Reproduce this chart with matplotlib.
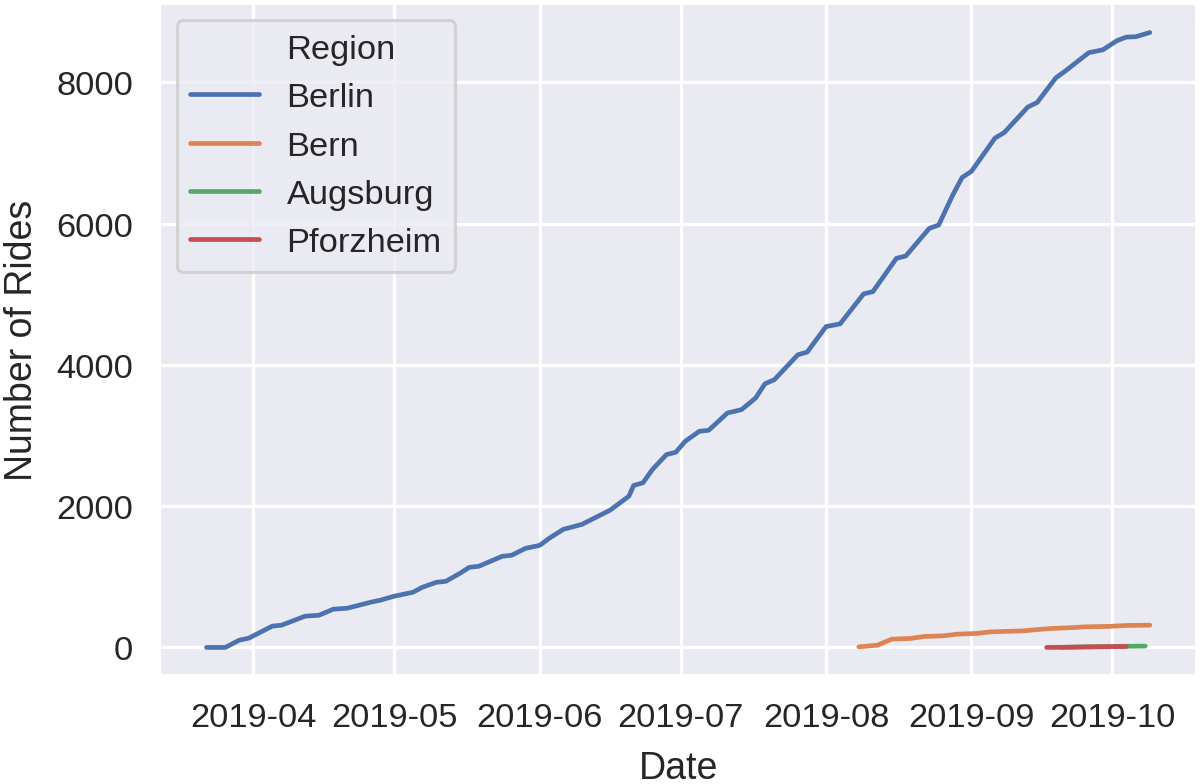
import matplotlib
matplotlib.use('Agg')
import matplotlib.pyplot as plt
import matplotlib.dates as mdates
from matplotlib.lines import Line2D
import numpy as np
import pandas as pd
import seaborn as sns

sns.set_theme(context='talk', style='darkgrid')
plt.rcParams['font.family'] = ['Liberation Sans', 'DejaVu Sans']

regions = ['Berlin', 'Bern', 'Augsburg', 'Pforzheim']
colors = sns.color_palette('deep', 4)

berlin_dates = ['2019-03-22', '2019-03-26', '2019-03-29', '2019-03-31', '2019-04-05',
                '2019-04-07', '2019-04-12', '2019-04-15', '2019-04-18', '2019-04-21',
                '2019-04-26', '2019-04-28', '2019-05-01', '2019-05-05', '2019-05-07',
                '2019-05-10', '2019-05-12', '2019-05-15', '2019-05-17', '2019-05-19',
                '2019-05-24', '2019-05-26', '2019-05-29', '2019-06-01', '2019-06-03',
                '2019-06-06', '2019-06-10', '2019-06-16', '2019-06-20', '2019-06-21',
                '2019-06-23', '2019-06-25', '2019-06-28', '2019-06-30', '2019-07-02',
                '2019-07-05', '2019-07-07', '2019-07-11', '2019-07-14', '2019-07-17',
                '2019-07-19', '2019-07-21', '2019-07-26', '2019-07-28', '2019-08-01',
                '2019-08-04', '2019-08-09', '2019-08-11', '2019-08-16', '2019-08-18',
                '2019-08-23', '2019-08-25', '2019-08-28', '2019-08-30', '2019-09-01',
                '2019-09-06', '2019-09-08', '2019-09-13', '2019-09-15', '2019-09-19',
                '2019-09-21', '2019-09-26', '2019-09-29', '2019-10-02', '2019-10-04',
                '2019-10-06', '2019-10-09']
berlin_rides = [0, 0, 103, 131, 301,
                315, 442, 456, 541, 555,
                640, 668, 725, 781, 852,
                922, 936, 1049, 1134, 1148,
                1290, 1304, 1403, 1445, 1544,
                1671, 1742, 1943, 2141, 2292,
                2331, 2518, 2730, 2763, 2918,
                3059, 3074, 3319, 3366, 3531,
                3733, 3790, 4143, 4181, 4542,
                4580, 5004, 5037, 5508, 5541,
                5932, 5979, 6403, 6653, 6740,
                7210, 7290, 7650, 7715, 8065,
                8160, 8420, 8460, 8590, 8640,
                8645, 8705]

bern_dates = ['2019-08-08', '2019-08-12', '2019-08-15', '2019-08-19', '2019-08-22',
              '2019-08-26', '2019-08-29', '2019-09-02', '2019-09-05', '2019-09-12',
              '2019-09-16', '2019-09-18', '2019-09-23', '2019-09-25', '2019-09-30',
              '2019-10-04', '2019-10-09']
bern_rides = [8, 32, 117, 127, 155,
              164, 188, 198, 220, 234,
              258, 268, 282, 291, 297,
              311, 315]

augsburg_dates = ['2019-09-20', '2019-09-25', '2019-10-04', '2019-10-08']
augsburg_rides = [0, 8, 16, 19]

pforzheim_dates = ['2019-09-17', '2019-09-24', '2019-10-04']
pforzheim_rides = [0, 5, 14]

series = [(berlin_dates, berlin_rides), (bern_dates, bern_rides),
          (augsburg_dates, augsburg_rides), (pforzheim_dates, pforzheim_rides)]

fig, ax = plt.subplots(figsize=(8, 5.233), dpi=150)
fig.subplots_adjust(left=0.1328, right=0.9975, top=0.9949, bottom=0.1372)

for name, (d, v), c in zip(regions, series, colors):
    ax.plot(pd.to_datetime(d), v, color=c, lw=2.25, label=name)

ax.set_ylim(-409, 9122)
ax.xaxis.set_major_locator(mdates.MonthLocator())
ax.xaxis.set_major_formatter(mdates.DateFormatter('%Y-%m'))
ax.set_xlabel('Date', labelpad=8)
ax.set_ylabel('Number of Rides', labelpad=8)

# old-style seaborn legend: hue name shown as an entry without a line
handles, labels = ax.get_legend_handles_labels()
title_handle = Line2D([], [], color='none')
ax.legend([title_handle] + handles, ['Region'] + labels, loc='upper left')

fig.savefig('out.png', dpi=150)
